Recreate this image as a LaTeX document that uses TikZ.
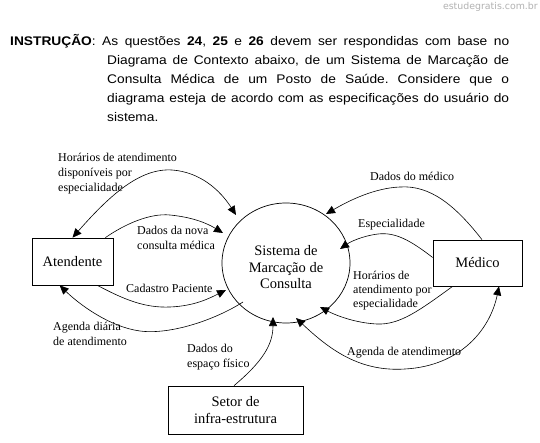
\documentclass[tikz,border=0pt]{standalone}
\usepackage{fontspec}
\setmainfont{Liberation Serif}
\newfontfamily\hdrfont[FakeStretch=1.1]{Liberation Sans}
\newfontfamily\wmfont{DejaVu Sans}
\usetikzlibrary{arrows.meta,shapes.geometric,calc}
\tikzset{
  box/.style={draw, line width=0.7pt, inner sep=0pt, font=\fontsize{14.5}{16.5}\selectfont, align=center},
  flow/.style={draw, line width=0.6pt, -{Triangle[length=9pt,width=8pt]}},
  bflow/.style={draw, line width=0.6pt, {Triangle[length=9pt,width=8pt]}-{Triangle[length=9pt,width=8pt]}},
  lbl/.style={anchor=base west, inner sep=0pt, align=left, font=\fontsize{12}{15}\selectfont},
}
\frenchspacing
\begin{document}
\begin{tikzpicture}[x=1pt,y=-1pt]
\useasboundingbox (0,0) rectangle (540,443);
\fill[white] (0,0) rectangle (540,443);

\node[anchor=base east, inner sep=0pt, font=\wmfont\fontsize{9.4}{10}\selectfont, text=black!30] (wm) at (538,10) {estudegratis.com.br};

\node[anchor=base west, inner sep=0pt, text width=499pt, align=justify, font=\hdrfont\fontsize{12.5}{19}\selectfont] (hdr) at (10,46)
{\hangindent=97pt\hangafter=1 \textbf{INSTRUÇÃO}: As questões \textbf{24}, \textbf{25} e \textbf{26} devem ser respondidas com base no\linebreak
Diagrama de Contexto abaixo, de um Sistema de Marcação de\linebreak
Consulta Médica de um Posto de Saúde. Considere que o\linebreak
diagrama esteja de acordo com as especificações do usuário do\linebreak
sistema.\par};

% nodes
\node[box, minimum width=81pt, minimum height=47pt] (aten) at (72.5,261.5) {Atendente};
\node[box, minimum width=89pt, minimum height=46pt] (med) at (477.5,263) {Médico};
\node[box, minimum width=135pt, minimum height=48pt] (setor) at (235.5,410) {Setor de\\infra-estrutura};
\node[box, ellipse, minimum width=128pt, minimum height=120pt] (sis) at (286,263) {\rule{0pt}{18.5pt}Sistema de\\Marcação de\\Consulta};

% flows
\draw[bflow] (aten.north) .. controls (110,195) and (140,168) .. (172,170) .. controls (200,172) and (220,190) .. ($(sis.center)+(-50,-48)$);
\draw[flow] ($(aten.north east)+(-8,0)$) .. controls (125,224) and (150,213) .. (170,215) .. controls (190,217) and (205,222) .. ($(sis.center)+(-63,-30)$);
\draw[flow] ($(aten.south east)+(-16,0)$) .. controls (125,300) and (145,308) .. (170,307) .. controls (195,306) and (210,298) .. ($(sis.center)+(-60,27)$);
\draw[flow] ($(sis.center)+(-43,39)$) .. controls (215,320) and (170,335) .. (140,331) .. controls (110,327) and (80,305) .. ($(aten.south west)+(28,0)$);
\draw[flow] ($(setor.north)+(-1.5,0)$) .. controls (262,362) and (273,345) .. ($(sis.center)+(-13,54)$);
\draw[bflow] ($(sis.center)+(10,55)$) .. controls (330,350) and (360,372) .. (405,369) .. controls (460,366) and (490,330) .. ($(med.south)+(21.5,0)$);
\draw[flow] ($(med.south west)+(20,0)$) .. controls (420,310) and (400,325) .. (377,324) .. controls (355,323) and (335,315) .. ($(sis.center)+(34,44)$);
\draw[flow] ($(med.west)+(0,-5.5)$) .. controls (410,240) and (395,232) .. (378,234) .. controls (362,236) and (350,242) .. ($(sis.center)+(54,-14)$);
\draw[flow] ($(med.north)+(4.5,0)$) .. controls (455,205) and (430,185) .. (400,187) .. controls (375,188) and (350,200) .. ($(sis.center)+(40,-49)$);

% labels (base anchor = baseline of the last line)
\node[lbl] (l1) at (58,192) {Horários de atendimento\\disponíveis por\\especialidade};
\node[lbl] (l2) at (137,250) {Dados da nova\\consulta médica};
\node[lbl] (l3) at (126,292) {Cadastro Paciente};
\node[lbl] (l4) at (53,345) {Agenda diária\\de atendimento};
\node[lbl] (l5) at (187,367) {Dados do\\espaço físico};
\node[lbl] (l6) at (347,355) {Agenda de atendimento};
\node[lbl, font=\fontsize{12}{14}\selectfont] (l7) at (353,307) {Horários de\\atendimento por\\especialidade};
\node[lbl] (l8) at (358,228) {Especialidade};
\node[lbl] (l9) at (370,181) {Dados do médico};
\end{tikzpicture}
\end{document}
